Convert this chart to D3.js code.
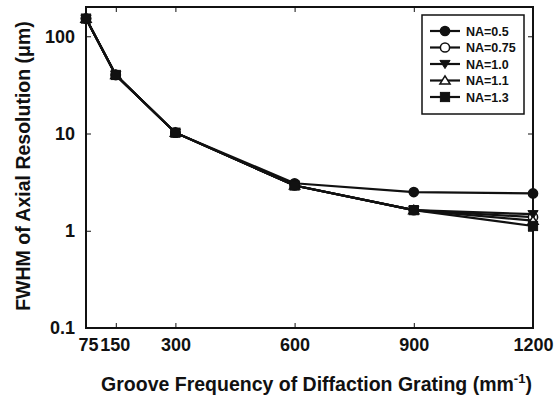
<!DOCTYPE html>
<html><head><meta charset="utf-8">
<script src="https://cdn.jsdelivr.net/npm/d3@7"></script>
<style>body{margin:0;background:#fff}svg{display:block}text{font-family:"Liberation Sans",Arial,sans-serif;font-weight:bold;fill:#111}</style>
</head><body>
<svg id="c" width="557" height="398"></svg>
<script>
const grooves = [75, 150, 300, 600, 900, 1200];
const na05  = [152, 40, 10.2, 3.08, 2.5, 2.42];
const na075 = [152, 40, 10.2, 2.92, 1.63, 1.38];
const na10  = [152, 40, 10.2, 2.92, 1.63, 1.48];
const na11  = [152, 40, 10.2, 2.92, 1.63, 1.27];
const na13  = [152, 40, 10.2, 2.92, 1.63, 1.12];
const seriesNames = ["NA=0.5", "NA=0.75", "NA=1.0", "NA=1.1", "NA=1.3"];
const seriesVals = [na05, na075, na10, na11, na13];
const markers = ["circle", "circleOpen", "triDown", "triUpOpen", "square"];
const xTicks = [75, 150, 300, 600, 900, 1200];
const yTicks = [0.1, 1, 10, 100];

const svg = d3.select("#c");
const L = 86, R = 533, T = 7, B = 328;
const x = d3.scaleLinear().domain([75, 1200]).range([L, R]);
const y = d3.scaleLog().domain([0.1, 200]).range([B, T]);

// frame
svg.append("rect").attr("x", L).attr("y", T).attr("width", R - L).attr("height", B - T)
  .attr("fill", "none").attr("stroke", "#111").attr("stroke-width", 2);

// axes
const xAxis = d3.axisBottom(x).tickValues(xTicks).tickSize(-5).tickPadding(10).tickFormat(d3.format("d"));
const gx = svg.append("g").attr("transform", `translate(0,${B})`).call(xAxis);
const xTop = d3.axisTop(x).tickValues(xTicks).tickSize(-5).tickFormat("");
const gxt = svg.append("g").attr("transform", `translate(0,${T})`).call(xTop);
const yAxis = d3.axisLeft(y).tickValues(yTicks).tickSize(-5).tickPadding(11).tickFormat(d => String(d));
const gy = svg.append("g").attr("transform", `translate(${L},0)`).call(yAxis);
const yRight = d3.axisRight(y).tickValues(yTicks).tickSize(-5).tickFormat("");
const gyr = svg.append("g").attr("transform", `translate(${R},0)`).call(yRight);
[gx, gxt, gy, gyr].forEach(g => {
  g.select(".domain").remove();
  g.selectAll("line").attr("stroke", "#111").attr("stroke-width", 1);
  g.selectAll("text").attr("font-size", 18).attr("font-weight", "bold").attr("fill", "#111")
    .attr("font-family", '"Liberation Sans",Arial,sans-serif');
});
gx.selectAll(".tick").filter(d => d === 75 || d === 1200).select("line").remove();
gxt.selectAll(".tick").filter(d => d === 75 || d === 1200).select("line").remove();
gy.selectAll(".tick").filter(d => d === 0.1).select("line").remove();
gyr.selectAll(".tick").filter(d => d === 0.1).select("line").remove();
gx.selectAll(".tick").filter(d => d === 75).select("text").attr("dx", 2);
gx.selectAll(".tick").filter(d => d === 150).select("text").attr("dx", -1);

// titles
const xt = svg.append("text").attr("x", (L + R) / 2 + 7).attr("y", 391).attr("text-anchor", "middle")
  .attr("font-size", 19.5).text("Groove Frequency of Diffaction Grating (mm");
xt.append("tspan").attr("dy", -8).attr("font-size", 13).text("-1");
xt.append("tspan").attr("dy", 8).text(")");
svg.append("text").attr("transform", "translate(30,166) rotate(-90)").attr("text-anchor", "middle")
  .attr("font-size", 19.5).text("FWHM of Axial Resolution (μm)");

function drawMarker(g, type, cx, cy) {
  const s = 4.6;
  if (type === "circle" || type === "circleOpen") {
    g.append("circle").attr("cx", cx).attr("cy", cy).attr("r", s)
      .attr("fill", type === "circle" ? "#111" : "#fff").attr("stroke", "#111").attr("stroke-width", 1.5);
  } else if (type === "square") {
    g.append("rect").attr("x", cx - s).attr("y", cy - s).attr("width", 2 * s).attr("height", 2 * s)
      .attr("fill", "#111").attr("stroke", "#111");
  } else if (type === "triDown") {
    g.append("path").attr("d", `M${cx - s - 0.5},${cy - s + 1}L${cx + s + 0.5},${cy - s + 1}L${cx},${cy + s}Z`)
      .attr("fill", "#111").attr("stroke", "#111").attr("stroke-width", 1);
  } else {
    g.append("path").attr("d", `M${cx - s - 0.5},${cy + s - 1}L${cx + s + 0.5},${cy + s - 1}L${cx},${cy - s}Z`)
      .attr("fill", "#fff").attr("stroke", "#111").attr("stroke-width", 1.5);
  }
}

const line = d3.line().x((d, i) => x(grooves[i])).y(d => y(d));
seriesVals.forEach((vals, k) => {
  const g = svg.append("g");
  g.append("path").attr("d", line(vals)).attr("fill", "none").attr("stroke", "#111").attr("stroke-width", 2.2);
  vals.forEach((v, i) => drawMarker(g, markers[k], x(grooves[i]), y(v)));
});

// legend
const lg = svg.append("g");
lg.append("rect").attr("x", 422).attr("y", 15).attr("width", 102).attr("height", 99)
  .attr("fill", "#fff").attr("stroke", "#111").attr("stroke-width", 1.5);
seriesNames.forEach((n, k) => {
  const ly = 31 + k * 16.5;
  lg.append("line").attr("x1", 430).attr("x2", 460).attr("y1", ly).attr("y2", ly)
    .attr("stroke", "#111").attr("stroke-width", 2.2);
  drawMarker(lg, markers[k], 445, ly);
  lg.append("text").attr("x", 466).attr("y", ly + 4.5).attr("font-size", 12.5).text(n);
});
</script>
</body></html>
